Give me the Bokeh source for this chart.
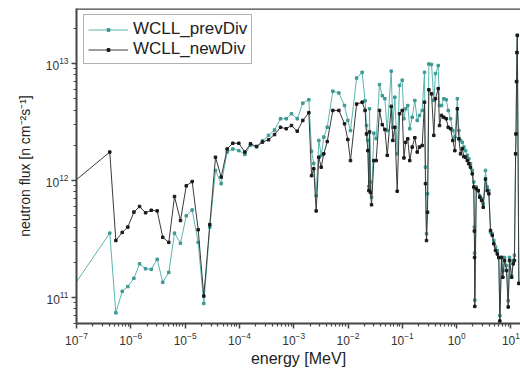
from bokeh.plotting import figure
from bokeh.models import FixedTicker, Range1d, Span, Legend, LegendItem
from bokeh.embed import file_html
from bokeh.resources import INLINE

# energies [MeV]
energy = [5.0e-8, 4.10e-7, 5.30e-7, 6.95e-7, 8.81e-7, 1.14e-6, 1.45e-6, 1.87e-6, 2.38e-6, 3.06e-6,
          3.88e-6, 5.01e-6, 6.38e-6, 8.22e-6, 1.05e-5, 1.35e-5, 1.74e-5, 2.21e-5, 2.85e-5, 3.63e-5,
          4.62e-5, 5.95e-5, 7.55e-5, 9.75e-5, 1.26e-4, 1.60e-4, 2.07e-4, 2.66e-4, 3.44e-4, 4.43e-4,
          5.71e-4, 7.28e-4, 9.10e-4, 1.16e-3, 1.47e-3, 1.90e-3, 2.13e-3, 2.34e-3, 2.59e-3, 2.90e-3,
          3.21e-3, 3.58e-3, 4.14e-3, 5.25e-3, 6.78e-3, 8.63e-3, 9.91e-3, 1.11e-2, 1.44e-2, 1.82e-2,
          2.06e-2, 2.19e-2, 2.32e-2, 2.42e-2, 2.49e-2, 2.59e-2, 2.71e-2, 2.99e-2, 3.30e-2, 3.80e-2,
          4.27e-2, 4.77e-2, 5.27e-2, 6.25e-2, 6.68e-2, 7.28e-2, 8.05e-2, 8.87e-2, 9.95e-2, 1.07e-1,
          1.15e-1, 1.26e-1, 1.37e-1, 1.52e-1, 1.70e-1, 1.88e-1, 2.07e-1, 2.32e-1, 2.56e-1, 2.67e-1,
          2.79e-1, 2.91e-1, 3.08e-1, 3.45e-1, 3.80e-1, 4.08e-1, 4.58e-1, 4.84e-1, 5.27e-1, 5.81e-1,
          6.43e-1, 7.00e-1, 7.73e-1, 8.51e-1, 9.27e-1, 1.03, 1.10, 1.18, 1.27, 1.36,
          1.46, 1.57, 1.68, 1.80, 1.94, 2.07, 2.12, 2.14, 2.16, 2.30,
          2.50, 2.67, 2.88, 3.09, 3.40, 3.66, 3.92, 4.21, 4.53, 4.84,
          5.20, 5.60, 5.98, 6.25, 6.71, 7.10, 7.62, 8.30, 8.91, 9.42,
          10.3, 11.0, 11.6, 12.2, 12.4, 12.7, 12.9, 13.1, 14.0]

# neutron flux [n cm^-2 s^-1]
flux_prev = [8.5e10, 3.55e11, 7.4e10, 1.13e11, 1.24e11, 1.46e11, 1.94e11, 1.76e11, 1.74e11, 2.12e11,
             1.35e11, 1.64e11, 3.55e11, 2.91e11, 5.0e11, 5.6e11, 2.96e11, 8.9e10, 4.0e11, 1.22e12,
             9.4e11, 1.75e12, 1.86e12, 1.8e12, 1.67e12, 2.0e12, 1.95e12, 2.18e12, 2.43e12, 2.7e12,
             3.37e12, 3.37e12, 3.72e12, 3.37e12, 4.58e12, 4.9e12, 1.78e12, 1.4e12, 7.4e11, 2.2e12,
             1.64e12, 2.35e12, 2.85e12, 5.8e12, 5.6e12, 4.37e12, 3.26e12, 2.67e12, 7.5e12, 8.4e12,
             4.8e12, 2.95e12, 2.2e12, 8.9e11, 4.1e12, 9.7e11, 7.2e11, 2.54e12, 2.28e12, 6.6e12,
             5.3e12, 5.0e12, 2.67e12, 8.6e12, 2.85e12, 5.15e12, 1.69e12, 6.5e12, 7.2e12, 3.37e12,
             4.1e12, 4.37e12, 2.77e12, 3.47e12, 4.83e12, 3.26e12, 3.6e12, 3.97e12, 8.4e12, 1.3e12,
             3.5e11, 7.7e11, 9.9e12, 9.8e12, 4.83e12, 8.2e12, 9.6e12, 4.37e12, 4.37e12, 5.0e12,
             4.9e12, 3.97e12, 3.37e12, 2.67e12, 2.35e12, 5.0e12, 2.67e12, 2.2e12, 2.12e12, 1.93e12,
             1.8e12, 1.64e12, 1.53e12, 1.39e12, 1.22e12, 9.7e11, 4.0e11, 2.4e11, 9.5e10, 8.8e11,
             8.2e11, 7.4e11, 7.0e11, 6.3e11, 1.22e12, 8.8e11, 8.2e11, 3.6e11, 3.5e11, 3.07e11,
             2.7e11, 2.52e11, 2.2e11, 7.0e10, 2.2e11, 1.7e11, 2.2e11, 1.88e11, 9.4e10, 2.2e11,
             1.54e11, 2.07e11, 2.3e11, 1.69e12, 2.5e12, 7.0e12, 1.24e13, 1.74e13, 1.32e11]

flux_new = [7.8e11, 1.75e12, 3.07e11, 3.6e11, 4.0e11, 5.37e11, 6.0e11, 5.3e11, 5.57e11, 5.5e11,
            3.27e11, 2.96e11, 7.3e11, 4.55e11, 9.0e11, 9.8e11, 3.8e11, 1.03e11, 4.2e11, 1.58e12,
            1.07e12, 1.86e12, 2.08e12, 2.08e12, 1.75e12, 2.06e12, 1.95e12, 2.13e12, 2.23e12, 2.47e12,
            2.85e12, 2.77e12, 2.95e12, 2.64e12, 3.26e12, 3.8e12, 1.1e12, 1.26e12, 5.5e11, 1.58e12,
            1.3e12, 1.69e12, 2.15e12, 3.97e12, 3.97e12, 3.05e12, 2.24e12, 1.48e12, 4.5e12, 4.67e12,
            3.97e12, 2.5e12, 1.8e12, 8.2e11, 2.6e12, 7.9e11, 6.2e11, 1.48e12, 1.48e12, 3.97e12,
            3.0e12, 2.73e12, 1.64e12, 4.3e12, 2.2e12, 2.85e12, 8.1e11, 3.72e12, 3.97e12, 1.56e12,
            2.12e12, 2.27e12, 1.48e12, 1.93e12, 2.32e12, 1.75e12, 1.93e12, 1.99e12, 4.67e12, 9.4e11,
            3.07e11, 5.36e11, 5.96e12, 5.5e12, 2.43e12, 5.0e12, 6.1e12, 2.95e12, 3.6e12, 3.47e12,
            3.37e12, 2.85e12, 2.77e12, 2.2e12, 1.8e12, 4.1e12, 2.27e12, 1.69e12, 1.87e12, 1.6e12,
            1.58e12, 1.48e12, 1.39e12, 1.3e12, 1.14e12, 8.8e11, 3.7e11, 2.2e11, 8.4e10, 8.5e11,
            8.2e11, 7.2e11, 6.75e11, 5.9e11, 1.03e12, 8.2e11, 7.7e11, 3.74e11, 3.4e11, 2.88e11,
            2.52e11, 2.36e11, 2.2e11, 6.3e10, 2.2e11, 1.49e11, 2.07e11, 1.7e11, 8.3e10, 2.07e11,
            1.49e11, 1.94e11, 2.07e11, 1.69e12, 2.5e12, 7.0e12, 1.24e13, 1.74e13, 1.32e11]

x_major = [1e-7, 1e-6, 1e-5, 1e-4, 1e-3, 1e-2, 1e-1, 1e0, 1e1]
series_names = ["WCLL_prevDiv", "WCLL_newDiv"]

TEAL = "#5ab5af"
TEAL_M = "#3d9a94"
DARK = "#3a3a3a"
DARK_M = "#1a1a1a"
AX = "#444444"
FONT = "Liberation Sans"

p = figure(width=520, height=376, x_axis_type="log", y_axis_type="log",
           x_range=Range1d(1e-7, 15.0), y_range=Range1d(6.0e10, 2.95e13),
           output_backend="svg", toolbar_location=None,
           min_border_left=76, min_border_right=0, min_border_top=8, min_border_bottom=53)
p.background_fill_color = "white"
p.border_fill_color = "white"
p.outline_line_color = None
p.xgrid.visible = False
p.ygrid.visible = False

minor = [k * d for d in [1e-7, 1e-6, 1e-5, 1e-4, 1e-3, 1e-2, 1e-1, 1e0, 1e1] for k in range(2, 10)]
p.xaxis.ticker = FixedTicker(ticks=x_major, minor_ticks=minor)

for ax in (p.xaxis, p.yaxis):
    ax.axis_line_color = AX
    ax.axis_line_width = 2
    ax.major_tick_line_color = AX
    ax.minor_tick_line_color = AX
    ax.major_tick_line_width = 1.5
    ax.minor_tick_line_width = 1.2
    ax.major_tick_out = 5
    ax.major_tick_in = 0
    ax.minor_tick_out = 3
    ax.minor_tick_in = 0
    ax.major_label_standoff = 3
    ax.major_label_text_font = FONT
    ax.major_label_text_font_size = "12px"
    ax.major_label_text_color = "#333333"
    ax.axis_label_text_font = FONT
    ax.axis_label_text_font_style = "normal"
    ax.axis_label_text_color = "#222222"

p.xaxis.axis_label = "energy [MeV]"
p.xaxis.axis_label_text_font_size = "16px"
p.xaxis.axis_label_standoff = 2
p.yaxis.axis_label = "neutron flux [n cm\u207b\u00b2s\u207b\u00b9]"
p.yaxis.axis_label_text_font_size = "14px"
p.yaxis.axis_label_standoff = 10

top = Span(location=2.95e13, dimension="width", line_color=AX, line_width=2.5)
p.add_layout(top)

l1 = p.line(energy, flux_prev, line_color=TEAL, line_width=1)
s1 = p.scatter(energy, flux_prev, marker="square", size=2.5, fill_color=TEAL_M, line_color=TEAL_M)
l2 = p.line(energy, flux_new, line_color=DARK, line_width=1)
s2 = p.scatter(energy, flux_new, marker="square", size=2.5, fill_color=DARK_M, line_color=DARK_M)

legend = Legend(items=[LegendItem(label=series_names[0], renderers=[l1, s1]),
                       LegendItem(label=series_names[1], renderers=[l2, s2])],
                location=(7, 259), orientation="vertical")
legend.label_text_font = FONT
legend.label_text_font_size = "17px"
legend.label_text_color = "#222222"
legend.glyph_width = 40
legend.glyph_height = 7
legend.label_height = 17
legend.label_standoff = 5
legend.spacing = 0
legend.padding = 4
legend.margin = 0
legend.border_line_color = "#666666"
legend.border_line_width = 1
legend.background_fill_alpha = 1
p.add_layout(legend)

open("out.html", "w").write(file_html(p, INLINE))
